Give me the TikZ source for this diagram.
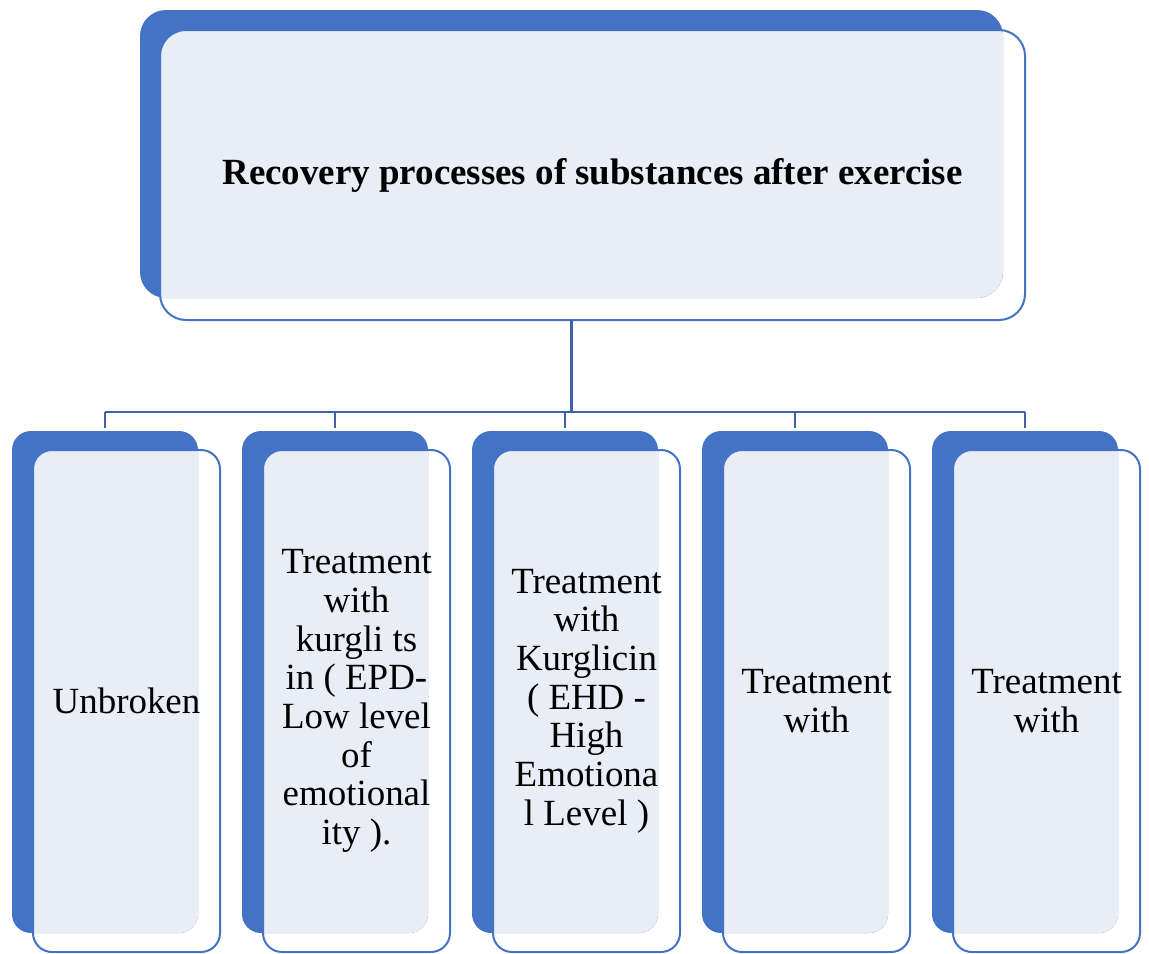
\documentclass[tikz,border=0pt]{standalone}
\usepackage{fontspec}
\setmainfont{Liberation Serif}
\usetikzlibrary{positioning}

\definecolor{boxblue}{HTML}{4472C4}
\definecolor{boxlight}{HTML}{E9EDF6}
\definecolor{linkblue}{HTML}{3E62A8}

\begin{document}
\begin{tikzpicture}[
            x = 0.75pt, y = -0.75pt, % pixel units, y down
            box/.style={rectangle, inner sep=0pt, outer sep=0pt},
            back/.style={box, fill=boxblue, rounded corners=14.25pt,
                minimum width=139.5pt, minimum height=376.5pt},
            front/.style={box, draw=boxblue, line width=1.5pt, rounded corners=14.25pt,
                minimum width=140.25pt, minimum height=376.5pt,
                align=center, font=\fontsize{27.7pt}{29pt}\selectfont},
            link/.style={draw=linkblue, line width=2pt}
        ]

        \useasboundingbox (0,0) rectangle (1149,953);

        % Top box
        \node[back, rounded corners=19.5pt, minimum width=647.25pt, minimum height=216pt]
            (top-back) at (571.5,154) {};
        \begin{scope}
            \clip[rounded corners=19.5pt] (top-back.north west) rectangle (top-back.south east);
            \fill[boxlight, rounded corners=19.5pt] (160,30) rectangle (1025,320);
        \end{scope}
        \node[front, rounded corners=19.5pt, minimum width=648.75pt, minimum height=217.5pt]
            (top-front) at (592.5,175) {\bfseries Recovery processes of substances after exercise};

        % Child boxes, back layer
        \foreach \i in {1,...,5}
        \node[back] (B-\i) at ({105+230*(\i-1)},682) {};

        % Light fill where front and back overlap
        \foreach \i in {1,...,5}
        {
            \begin{scope}
                \clip[rounded corners=14.25pt] (B-\i.north west) rectangle (B-\i.south east);
                \fill[boxlight, rounded corners=14.25pt]
                    ({33+230*(\i-1)},450) rectangle ({220+230*(\i-1)},952);
            \end{scope}
        }

        % Child boxes, front layer
        \node[front] (F-1) at (126.5,701) {Unbroken};
        \node[front] (F-2) at (356.5,701) {Treatment\\with\\kurgli ts\\in ( EPD-\\Low level\\of\\emotional\\ity ).};
        \node[front] (F-3) at (586.5,701) {Treatment\\with\\Kurglicin\\( EHD -\\High\\Emotiona\\l Level )};
        \node[front] (F-4) at (816.5,701) {Treatment\\with};
        \node[front] (F-5) at (1046.5,701) {Treatment\\with};

        % Connections between top box and child boxes
        \coordinate (bus) at (571.5,412);
        \draw[link, line width=2.2pt] (top-back.south |- top-front.south) -- (bus);
        \draw[link] (B-1.north |- bus) -- (B-5.north |- bus);
        \foreach \i in {1,...,5}
        \draw[link, line width=1.6pt, shorten >=2.5pt] (B-\i.north |- bus) -- (B-\i.north);

    \end{tikzpicture}
\end{document}
